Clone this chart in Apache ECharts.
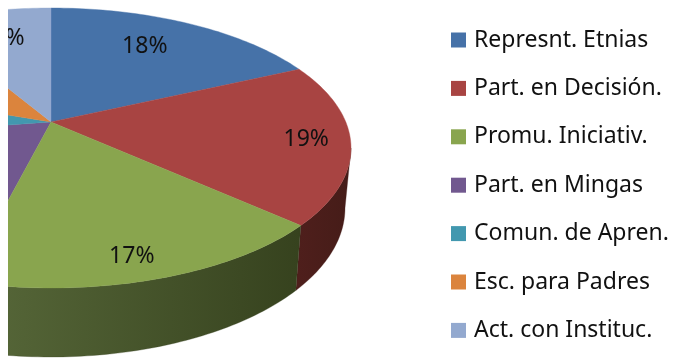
<!DOCTYPE html>
<html><head><meta charset="utf-8">
<style>html,body{margin:0;padding:0;background:#fff;overflow:hidden}
#c{position:absolute;left:8px;top:0;width:666px;height:358px}</style>
<script src="https://cdn.jsdelivr.net/npm/echarts@6/dist/echarts.min.js"></script>
</head><body><div id="c"></div>
<script>
const categories = ['Represnt. Etnias','Part. en Decisión.','Promu. Iniciativ.','Part. en Mingas','Comun. de Apren.','Esc. para Padres','Act. con Instituc.'];
const values = [18.1,18.6,17.2,18.7,7.8,11.2,8.4];
const colors = ['#4672A8','#A84442','#89A54E','#71588F','#4298AF','#DB843D','#93A9CF'];
const sideLeft = ['#2B4568','#4F1F1C','#58693A','#463659','#285D6C','#874F22','#5A6880'];
const sideRight = ['#2B4568','#451C18','#36421E','#463659','#285D6C','#874F22','#5A6880'];
const labelRadius = [0.72,0.855,0.87,0.8,0.8,0.8,0.72];
const labelShift = [-3,0,1.5,0,0,0,2];

const FONT = '"Noto Sans"';
const top3d = {cx:43, cy:148, rx:300, ry:140};
const bot3d = {cx:43, cy:208, rx:294, ry:149};
const persp = -0.186, s = Math.sqrt(1-persp*persp);
const total = values.reduce((a,b)=>a+b,0);
function proj(deg){
  const t = deg*Math.PI/180, x = Math.sin(t), y = -Math.cos(t), d = 1+persp*y;
  return [x*s/d, (y+persp)/d];
}
function pt(e,p){ return [e.cx+e.rx*p[0], e.cy+e.ry*p[1]]; }
function sweep(a,b){ const o=[]; for(let t=a;t<b;t+=1)o.push(t); o.push(b); return o; }
const frontStart = Math.acos(persp)*180/Math.PI, frontEnd = 360-frontStart;

function renderSlice(params){
  const i = params.seriesIndex;
  let cum = 0; for(let k=0;k<i;k++)cum+=values[k];
  const a = cum/total*360, b = (cum+values[i])/total*360;
  const children = [];
  const fa = Math.max(a,frontStart), fb = Math.min(b,frontEnd);
  if(fb>fa){
    const ts = sweep(fa,fb);
    const pts = ts.map(t=>pt(top3d,proj(t))).concat(ts.slice().reverse().map(t=>pt(bot3d,proj(t))));
    const xs = pts.map(p=>p[0]);
    children.push({type:'polygon',shape:{points:pts},style:{
      fill:new echarts.graphic.LinearGradient(Math.min(...xs),0,Math.max(...xs),0,[
        {offset:0,color:sideLeft[i]},{offset:1,color:sideRight[i]}],true),
      stroke:sideRight[i],lineWidth:0.3}});
  }
  const topPts = [[top3d.cx,top3d.cy+top3d.ry*persp]].concat(sweep(a,b).map(t=>pt(top3d,proj(t))));
  children.push({type:'polygon',shape:{points:topPts},style:{fill:colors[i],stroke:colors[i],lineWidth:0.4}});
  const mid = (a+b)/2+labelShift[i], t = mid*Math.PI/180, r = labelRadius[i];
  const lx = Math.sin(t)*r, ly = -Math.cos(t)*r, d = 1+persp*ly;
  const L = [top3d.cx+top3d.rx*lx*s/d, top3d.cy+top3d.ry*(ly+persp)/d];
  children.push({type:'text',z2:10,style:{text:Math.round(values[i])+'%',x:L[0],y:L[1],
    align:'center',verticalAlign:'middle',font:'23px '+FONT,fill:'#111'}});
  return {type:'group',children};
}

const chart = echarts.init(document.getElementById('c'),null,{renderer:'canvas'});
chart.setOption({
  animation:false,
  backgroundColor:'#fff',
  legend:{orient:'vertical',left:438,top:21,icon:'rect',itemWidth:15,itemHeight:15,itemGap:20.4,
    selectedMode:false,data:categories,
    textStyle:{fontFamily:'Noto Sans',fontSize:23,color:'#111',lineHeight:28,padding:[0,0,0,3]}},
  series:categories.map((name,i)=>({
    type:'custom',name,coordinateSystem:'none',z:i===2||i===1?2:1,
    itemStyle:{color:colors[i]},
    data:[[values[i]]],
    renderItem:renderSlice
  }))
});
</script></body></html>
